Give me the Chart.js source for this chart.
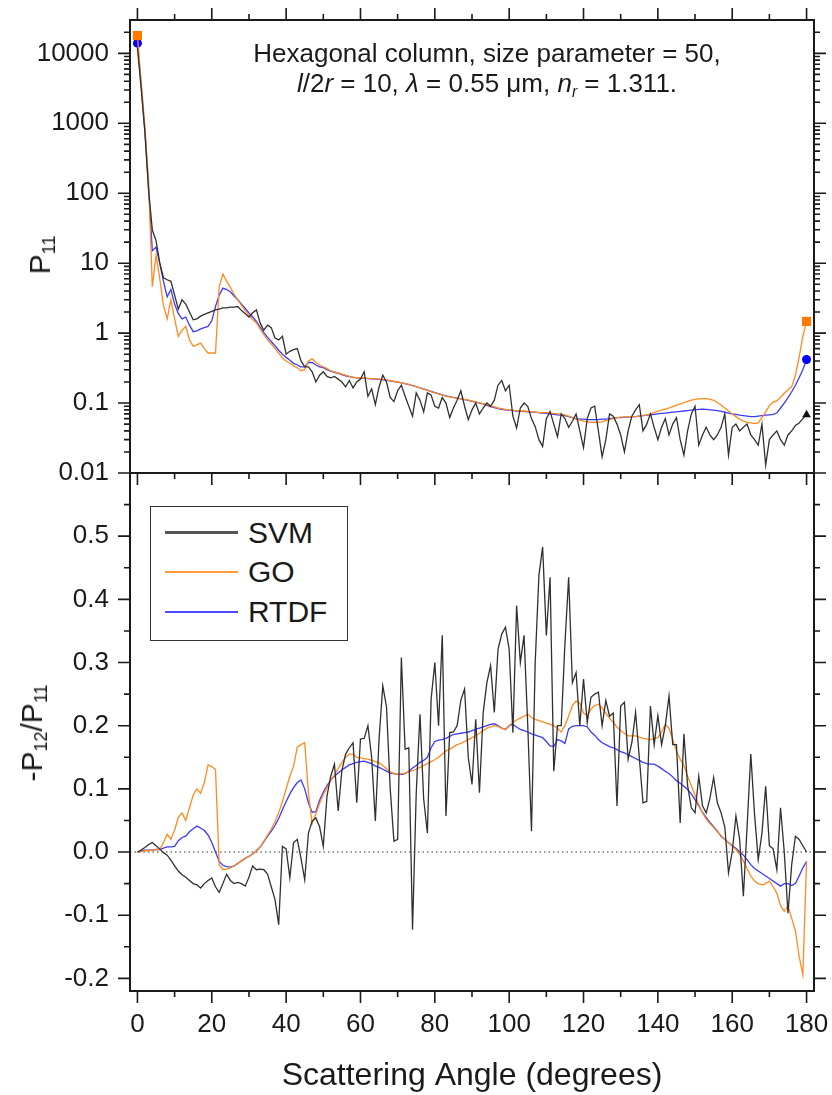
<!DOCTYPE html>
<html>
<head>
<meta charset="utf-8">
<title>Hexagonal column: P11 and -P12/P11</title>
<script src="https://cdn.jsdelivr.net/npm/chart.js@4.4.1/dist/chart.umd.min.js"></script>
<style>
  html, body { margin: 0; padding: 0; background: #fff; }
  #wrap { position: relative; width: 832px; height: 1095px; overflow: hidden;
          font-family: 'Liberation Sans', Arial, Helvetica, sans-serif; color: #1a1a1a; }
  #wrap canvas { position: absolute; left: 0; top: 0; }
  sub { font-size: 0.6em; vertical-align: -0.3em; line-height: 0; }
  .ytitle { position: absolute; white-space: nowrap; font-size: 30px; line-height: 1;
            transform: translate(-50%, -50%) rotate(-90deg); }
  #note { position: absolute; left: 187px; top: 38px; width: 600px; text-align: center;
          font-size: 26px; line-height: 30px; white-space: nowrap; }
  #legend { position: absolute; left: 150px; top: 506px; width: 198px; height: 135px;
            box-sizing: border-box; border: 1.5px solid #333; background: #fff; padding-top: 6px; }
  #legend .row { display: flex; align-items: center; height: 39.5px; }
  #legend .swatch { display: block; margin-left: 14px; width: 73px; }
  #legend .lab { margin-left: 10px; font-size: 30px; line-height: 1; }
</style>
</head>
<body>
<div id="wrap">
  <canvas id="p11" width="832" height="1095"></canvas>
  <canvas id="pol" width="832" height="1095"></canvas>
  <div class="ytitle" style="left:40px;top:255px">P<sub>11</sub></div>
  <div class="ytitle" style="left:32px;top:733px">-P<sub>12</sub>/P<sub>11</sub></div>
  <div id="note">Hexagonal column, size parameter = 50,<br><i>l</i>/2<i>r</i> = 10, <i>λ</i> = 0.55 μm, <i>n</i><sub><i>r</i></sub> = 1.311.</div>
  <div id="legend"></div>
</div>
<script>
// Scattering angle grid (degrees), shared by both panels.
const angles = [
  0, 1, 2, 3, 4, 5, 6, 7, 8, 9,
  10, 11, 12, 13, 14, 15, 16, 17, 18, 19,
  20, 21, 22, 23, 24, 25, 26, 27, 28, 29,
  30, 31, 32, 33, 34, 35, 36, 37, 38, 39,
  40, 41, 42, 43, 44, 45, 46, 47, 48, 49,
  50, 51, 52, 53, 54, 55, 56, 57, 58, 59,
  60, 61, 62, 63, 64, 65, 66, 67, 68, 69,
  70, 71, 72, 73, 74, 75, 76, 77, 78, 79,
  80, 81, 82, 83, 84, 85, 86, 87, 88, 89,
  90, 91, 92, 93, 94, 95, 96, 97, 98, 99,
  100, 101, 102, 103, 104, 105, 106, 107, 108, 109,
  110, 111, 112, 113, 114, 115, 116, 117, 118, 119,
  120, 121, 122, 123, 124, 125, 126, 127, 128, 129,
  130, 131, 132, 133, 134, 135, 136, 137, 138, 139,
  140, 141, 142, 143, 144, 145, 146, 147, 148, 149,
  150, 151, 152, 153, 154, 155, 156, 157, 158, 159,
  160, 161, 162, 163, 164, 165, 166, 167, 168, 169,
  170, 171, 172, 173, 174, 175, 176, 177, 178, 179,
  180
];

// Phase function P11 (top panel, log scale).
const p11SVM = [
  12000, 3200, 750, 110, 30, 21, 10, 6.2, 5.8, 5.5,
  3.5, 2.2, 3.0, 2.6, 2.0, 1.55, 1.6, 1.75, 1.85, 1.95,
  2.05, 2.15, 2.2, 2.3, 2.3, 2.35, 2.35, 2.4, 2.1, 1.9,
  1.7, 1.95, 2.15, 1.4, 1.1, 1.3, 1.2, 0.85, 0.8, 0.9,
  0.5, 0.55, 0.58, 0.6, 0.4, 0.33, 0.33, 0.28, 0.2, 0.25,
  0.28, 0.24, 0.23, 0.24, 0.22, 0.2, 0.17, 0.21, 0.165, 0.2,
  0.22, 0.28, 0.125, 0.16, 0.095, 0.17, 0.25, 0.2, 0.12, 0.105,
  0.15, 0.18, 0.125, 0.09, 0.065, 0.14, 0.11, 0.075, 0.14, 0.13,
  0.09, 0.085, 0.12, 0.1, 0.062, 0.085, 0.11, 0.15, 0.09, 0.058,
  0.08, 0.1, 0.07, 0.085, 0.1, 0.09, 0.11, 0.18, 0.21, 0.15,
  0.18, 0.065, 0.044, 0.085, 0.1, 0.09, 0.06, 0.046, 0.03, 0.024,
  0.06, 0.076, 0.05, 0.033, 0.07, 0.06, 0.045, 0.055, 0.07, 0.04,
  0.023, 0.06, 0.085, 0.09, 0.04, 0.017, 0.03, 0.07, 0.065, 0.05,
  0.035, 0.02, 0.04, 0.065, 0.08, 0.095, 0.04, 0.05, 0.07, 0.045,
  0.03, 0.045, 0.06, 0.035, 0.05, 0.062, 0.03, 0.018, 0.04, 0.07,
  0.09, 0.025, 0.035, 0.045, 0.035, 0.03, 0.035, 0.045, 0.07, 0.018,
  0.045, 0.05, 0.04, 0.045, 0.05, 0.035, 0.03, 0.025, 0.05, 0.013,
  0.03, 0.035, 0.04, 0.03, 0.025, 0.035, 0.04, 0.048, 0.052, 0.06,
  0.068
];
const p11GO = [
  18000, 4000, 900, 150, 4.6, 13, 6, 2.5, 1.6, 3.0,
  1.6, 0.9, 1.1, 1.25, 0.8, 0.65, 0.68, 0.72, 0.6, 0.52,
  0.52, 0.52, 4.6, 7.0, 5.5, 4.5, 3.6, 3.0, 2.5, 2.1,
  1.8, 1.55, 1.4, 1.15, 0.95, 0.8, 0.7, 0.6, 0.52, 0.44,
  0.4, 0.37, 0.34, 0.32, 0.29, 0.3, 0.4, 0.43, 0.38, 0.35,
  0.33, 0.31, 0.29, 0.28, 0.27, 0.26, 0.25, 0.24, 0.235, 0.23,
  0.23, 0.228, 0.226, 0.224, 0.222, 0.22, 0.218, 0.215, 0.21, 0.205,
  0.2, 0.195, 0.19, 0.185, 0.178, 0.172, 0.165, 0.158, 0.152, 0.146,
  0.14, 0.135, 0.13, 0.126, 0.123, 0.12, 0.117, 0.115, 0.113, 0.11,
  0.107, 0.104, 0.101, 0.098, 0.095, 0.091, 0.088, 0.085, 0.083, 0.081,
  0.08, 0.079, 0.078, 0.077, 0.077, 0.076, 0.075, 0.074, 0.073, 0.073,
  0.073, 0.072, 0.071, 0.07, 0.069, 0.068, 0.065, 0.062, 0.059, 0.057,
  0.055, 0.054, 0.053, 0.053, 0.053, 0.054, 0.056, 0.058, 0.06, 0.062,
  0.063, 0.063, 0.064, 0.064, 0.064, 0.065, 0.066, 0.068, 0.07, 0.073,
  0.076, 0.079, 0.082, 0.085, 0.089, 0.093, 0.097, 0.101, 0.106, 0.11,
  0.113, 0.115, 0.116, 0.116, 0.114, 0.109, 0.102, 0.094, 0.085, 0.077,
  0.07, 0.064, 0.059, 0.055, 0.053, 0.052, 0.051, 0.052, 0.062, 0.075,
  0.092, 0.103, 0.108, 0.12, 0.138, 0.155, 0.172, 0.25, 0.45, 0.9,
  1.47
];
const p11RTDF = [
  14000, 3500, 800, 120, 15, 17, 10, 5.5, 3.3, 4.2,
  2.6, 1.9, 1.6, 1.7, 1.3, 1.05, 1.08, 1.15, 1.2, 1.25,
  1.5, 2.4, 3.5, 4.4, 4.2, 3.9, 3.4, 3.0, 2.6, 2.25,
  1.95, 1.7, 1.47, 1.22, 1.02, 0.87, 0.76, 0.66, 0.57, 0.5,
  0.45, 0.41, 0.37, 0.35, 0.33, 0.33, 0.38, 0.38, 0.35, 0.33,
  0.32, 0.3, 0.285, 0.275, 0.265, 0.255, 0.245, 0.238, 0.233, 0.23,
  0.228, 0.226, 0.224, 0.222, 0.22, 0.218, 0.215, 0.212, 0.207, 0.203,
  0.2, 0.195, 0.19, 0.184, 0.178, 0.172, 0.165, 0.159, 0.153, 0.147,
  0.141, 0.136, 0.131, 0.127, 0.124, 0.121, 0.118, 0.115, 0.112, 0.109,
  0.106, 0.103, 0.1, 0.097, 0.093, 0.089, 0.086, 0.083, 0.081, 0.08,
  0.079, 0.078, 0.077, 0.076, 0.076, 0.075, 0.074, 0.074, 0.073, 0.072,
  0.071, 0.07, 0.069, 0.068, 0.067, 0.066, 0.064, 0.062, 0.06, 0.059,
  0.059, 0.058, 0.058, 0.058, 0.058, 0.059, 0.059, 0.06, 0.061, 0.062,
  0.062, 0.063, 0.063, 0.064, 0.064, 0.065, 0.066, 0.067, 0.068, 0.069,
  0.07, 0.071, 0.072, 0.073, 0.074, 0.075, 0.076, 0.077, 0.078, 0.079,
  0.08, 0.081, 0.082, 0.081, 0.08, 0.079, 0.078, 0.076, 0.074, 0.072,
  0.07, 0.069, 0.067, 0.066, 0.065, 0.064, 0.064, 0.065, 0.066, 0.067,
  0.068, 0.069, 0.072, 0.085, 0.1, 0.12, 0.145, 0.18, 0.23, 0.3,
  0.42
];

// Degree of linear polarization -P12/P11 (bottom panel).
const polSVM = [
  0, 0.003, 0.007, 0.012, 0.015, 0.01, 0.005, -0.001, -0.005, -0.013,
  -0.022, -0.03, -0.036, -0.04, -0.045, -0.05, -0.052, -0.057, -0.05, -0.045,
  -0.041, -0.055, -0.064, -0.05, -0.035, -0.045, -0.05, -0.048, -0.05, -0.054,
  -0.04, -0.022, -0.028, -0.027, -0.028, -0.035, -0.055, -0.075, -0.115, 0.009,
  0.005, -0.041, 0.015, 0.02, -0.01, -0.044, 0.03, 0.049, 0.054, 0.04,
  0.009, 0.089, 0.12, 0.139, 0.065, 0.129, 0.155, 0.165, 0.173, 0.078,
  0.179, 0.18, 0.2, 0.15, 0.049, 0.179, 0.263, 0.23, 0.1, 0.017,
  0.02, 0.308, 0.163, 0.165, -0.123, 0.094, 0.218, 0.084, 0.03, 0.242,
  0.3, 0.2, 0.343, 0.057, 0.189, 0.19, 0.2, 0.24, 0.258, 0.15,
  0.107, 0.21, 0.094, 0.22, 0.268, 0.295, 0.221, 0.321, 0.345, 0.356,
  0.321, 0.189, 0.39, 0.3, 0.343, 0.2, 0.033, 0.3, 0.438, 0.483,
  0.343, 0.435, 0.128, 0.2, 0.2, 0.33, 0.435, 0.268, 0.284, 0.2,
  0.274, 0.205, 0.245, 0.25, 0.253, 0.2, 0.24, 0.215, 0.22, 0.073,
  0.231, 0.237, 0.147, 0.173, 0.221, 0.15, 0.078, 0.08, 0.231, 0.17,
  0.216, 0.17, 0.2, 0.247, 0.17, 0.17, 0.046, 0.187, 0.105, 0.07,
  0.062, 0.12, 0.073, 0.062, 0.085, 0.118, 0.078, 0.062, 0.04, -0.033,
  0.0, 0.057, 0.02, -0.07, 0.04, 0.155, 0.06, -0.012, 0.03, 0.104,
  0.01, 0.005, -0.028, 0.07, 0.0, -0.097, -0.02, 0.025, 0.02, 0.01,
  0.0
];
const polGO = [
  0, 0.001, 0.002, 0.002, 0.003, 0.004, 0.004, 0.015, 0.028, 0.02,
  0.035, 0.055, 0.062, 0.05, 0.07, 0.09, 0.1, 0.093, 0.11, 0.138,
  0.135, 0.131, -0.02, -0.028, -0.027, -0.025, -0.022, -0.018, -0.014, -0.01,
  -0.007, -0.003, 0.002, 0.008, 0.017, 0.027, 0.036, 0.048, 0.062, 0.08,
  0.1, 0.12, 0.136, 0.166, 0.17, 0.173, 0.094, 0.045, 0.06, 0.077,
  0.091, 0.102, 0.113, 0.122, 0.132, 0.142, 0.15, 0.155, 0.155, 0.15,
  0.149, 0.148, 0.147, 0.145, 0.143, 0.141, 0.137, 0.132, 0.127, 0.124,
  0.123, 0.124, 0.125, 0.127, 0.129, 0.131, 0.134, 0.137, 0.14, 0.143,
  0.146, 0.15, 0.155, 0.16, 0.163, 0.166, 0.17, 0.172, 0.175, 0.178,
  0.181, 0.184, 0.188, 0.192, 0.196, 0.198, 0.2, 0.199, 0.196, 0.194,
  0.2, 0.205, 0.209, 0.212, 0.215, 0.218, 0.213, 0.21, 0.208, 0.206,
  0.204, 0.202, 0.2, 0.196, 0.19, 0.2, 0.215, 0.232, 0.239, 0.236,
  0.22, 0.216, 0.226, 0.232, 0.234, 0.228, 0.22, 0.212, 0.205, 0.198,
  0.192, 0.188, 0.184, 0.184, 0.184, 0.182, 0.18, 0.179, 0.178, 0.18,
  0.181, 0.19, 0.202, 0.196, 0.178, 0.16, 0.147, 0.137, 0.12, 0.105,
  0.09, 0.075, 0.062, 0.052, 0.045, 0.039, 0.032, 0.026, 0.02, 0.015,
  0.009, 0.004, -0.004, -0.014, -0.026, -0.038, -0.046, -0.05, -0.052, -0.05,
  -0.046, -0.055, -0.065, -0.085, -0.094, -0.085, -0.105, -0.125, -0.165, -0.194,
  -0.015
];
const polRTDF = [
  0, 0.002, 0.003, 0.003, 0.003, 0.004, 0.004, 0.006, 0.008, 0.008,
  0.009, 0.018, 0.023, 0.025, 0.032, 0.037, 0.041, 0.038, 0.034, 0.027,
  0.015, 0.0, -0.015, -0.021, -0.023, -0.024, -0.022, -0.018, -0.014, -0.01,
  -0.007, -0.003, 0.002, 0.008, 0.016, 0.025, 0.033, 0.042, 0.053, 0.067,
  0.08, 0.092, 0.102, 0.11, 0.114, 0.1, 0.078, 0.063, 0.064, 0.082,
  0.095, 0.105, 0.114, 0.12, 0.125, 0.13, 0.134, 0.138, 0.14, 0.142,
  0.143, 0.144, 0.142, 0.14, 0.136, 0.134, 0.131, 0.128, 0.125, 0.124,
  0.123, 0.123, 0.124, 0.128, 0.133, 0.137, 0.142, 0.145, 0.15, 0.165,
  0.175, 0.177, 0.178, 0.18, 0.183, 0.186, 0.187, 0.188, 0.189, 0.19,
  0.192, 0.194, 0.196, 0.198, 0.2, 0.202, 0.203, 0.2, 0.196, 0.194,
  0.2, 0.202, 0.198, 0.194, 0.192, 0.19, 0.187, 0.185, 0.183, 0.181,
  0.175, 0.168, 0.167, 0.178, 0.176, 0.172, 0.195, 0.199, 0.2, 0.2,
  0.2, 0.198, 0.19, 0.185, 0.178, 0.173, 0.17, 0.167, 0.165, 0.162,
  0.159, 0.157, 0.154, 0.151, 0.148, 0.145, 0.142, 0.14, 0.139, 0.139,
  0.136, 0.132, 0.128, 0.124, 0.119, 0.113, 0.109, 0.104, 0.099, 0.092,
  0.083, 0.073, 0.063, 0.055, 0.047, 0.04, 0.033, 0.025, 0.02, 0.015,
  0.01, 0.006, 0.0, -0.005, -0.012, -0.02, -0.026, -0.03, -0.034, -0.038,
  -0.042, -0.046, -0.05, -0.054, -0.05, -0.05, -0.053, -0.05, -0.038, -0.025,
  -0.015
];

// Axis ticks and their labels.
const angleTicks = [0, 20, 40, 60, 80, 100, 120, 140, 160, 180];
const p11Ticks = [0.01, 0.1, 1, 10, 100, 1000, 10000];
const p11TickLabels = ['0.01', '0.1', '1', '10', '100', '1000', '10000'];
const polTicks = [-0.2, -0.1, 0, 0.1, 0.2, 0.3, 0.4, 0.5];
const polTickLabels = ['-0.2', '-0.1', '0.0', '0.1', '0.2', '0.3', '0.4', '0.5'];

const FONT = "'Liberation Sans', Arial, Helvetica, sans-serif";
const INK = '#1a1a1a';
const STYLE = {
  SVM:  { color: '#303030', width: 1.3, marker: 'triangle', markerColor: '#111111', size: 5,   legend: '#555555', legendWidth: 2.6 },
  GO:   { color: '#ff8a1f', width: 1.3, marker: 'rect',     markerColor: '#ff7a00', size: 6.5, legend: '#ff9a3c', legendWidth: 1.6 },
  RTDF: { color: '#3a3aff', width: 1.3, marker: 'circle',   markerColor: '#0000ff', size: 4.5, legend: '#4d4dff', legendWidth: 1.6 }
};

function pts(vals) {
  return angles.map((a, i) => ({ x: a, y: vals[i] }));
}

// Symbols only at the forward (0°) and back (180°) scattering ends.
function endMarkers(name, withStart) {
  const last = angles.length - 1;
  const r = STYLE[name].size;
  return c => (c.dataIndex === last || (withStart && c.dataIndex === 0)) ? r : 0;
}

function dataset(name, vals, markers) {
  const s = STYLE[name];
  return {
    label: name,
    data: pts(vals),
    borderColor: s.color,
    borderWidth: s.width,
    pointStyle: s.marker,
    pointBackgroundColor: s.markerColor,
    pointBorderColor: s.markerColor,
    pointBorderWidth: 0,
    pointRadius: markers ? endMarkers(name, name !== 'SVM') : 0,
    tension: 0,
    fill: false
  };
}

// Invisible tick marks reserve the gap between axis and labels; the real
// marks (major + minor) are drawn by the frame plugin below.
function hiddenGrid(len) {
  return { display: true, drawOnChartArea: false, drawTicks: true, tickLength: len, tickColor: 'rgba(0,0,0,0)' };
}

function yAxis(type, min, max, ticks, labels) {
  return {
    type, min, max, bounds: 'data',
    grid: hiddenGrid(21),
    border: { display: false },
    afterBuildTicks: s => { s.ticks = ticks.map(v => ({ value: v })); },
    afterFit: s => { s.width = 130; },
    ticks: { autoSkip: false, padding: 0, color: INK, font: { family: FONT, size: 26 },
             callback: (v, i) => labels[i] }
  };
}

function xAxis(show) {
  return {
    type: 'linear', min: -2, max: 182, bounds: 'data', display: show,
    grid: hiddenGrid(18),
    border: { display: false },
    afterBuildTicks: s => { s.ticks = angleTicks.map(v => ({ value: v })); },
    afterFit: s => { if (show) s.height = 104; },
    ticks: { autoSkip: false, maxRotation: 0, padding: 0, color: INK, font: { family: FONT, size: 26 } },
    title: { display: show, text: 'Scattering Angle (degrees)', color: INK,
             font: { family: FONT, size: 32 }, padding: 0 }
  };
}

// Tick marks for a y scale: majors at the scale's ticks, minors in between.
function yTickMarks(ys) {
  const marks = ys.ticks.map(t => [t.value, 12]);
  if (ys.type === 'logarithmic') {
    for (let d = Math.floor(Math.log10(ys.min)); d < Math.ceil(Math.log10(ys.max)); d++) {
      for (let m = 2; m <= 9; m++) {
        const v = m * Math.pow(10, d);
        if (v > ys.min && v < ys.max) marks.push([v, 6]);
      }
    }
  } else {
    const step = ys.ticks[1].value - ys.ticks[0].value;
    ys.ticks.forEach(t => { if (t.value + step / 2 < ys.max) marks.push([t.value + step / 2, 6]); });
    const first = ys.ticks[0].value - step / 2;
    if (first > ys.min) marks.push([first, 6]);
  }
  return marks;
}

// Boxed frame with outward ticks on all sides, plus the dotted zero line.
const frame = {
  id: 'frame',
  beforeDatasetsDraw(chart, args, opts) {
    if (!opts.zeroLine) return;
    const { ctx, chartArea: a } = chart;
    const py = chart.scales.y.getPixelForValue(0);
    ctx.save();
    ctx.strokeStyle = '#333';
    ctx.lineWidth = 1.2;
    ctx.setLineDash([1.5, 3]);
    ctx.beginPath();
    ctx.moveTo(a.left, py);
    ctx.lineTo(a.right, py);
    ctx.stroke();
    ctx.restore();
  },
  afterDatasetsDraw(chart, args, opts) {
    const { ctx, chartArea: a } = chart;
    const xs = chart.scales.x, ys = chart.scales.y;
    ctx.save();
    ctx.strokeStyle = INK;
    ctx.lineWidth = 1.6;
    ctx.beginPath();
    angleTicks.forEach(v => {
      [[v, 12], [v + 10, 6]].forEach(([t, len]) => {
        if (t > xs.max) return;
        const px = xs.getPixelForValue(t);
        if (opts.topTicks) { ctx.moveTo(px, a.top); ctx.lineTo(px, a.top - len); }
        ctx.moveTo(px, a.bottom);
        ctx.lineTo(px, a.bottom + len);
      });
    });
    yTickMarks(ys).forEach(([t, len]) => {
      const py = ys.getPixelForValue(t);
      ctx.moveTo(a.left, py); ctx.lineTo(a.left - len, py);
      ctx.moveTo(a.right, py); ctx.lineTo(a.right + len, py);
    });
    ctx.stroke();
    ctx.lineWidth = 2;
    ctx.strokeRect(a.left, a.top, a.right - a.left, a.bottom - a.top);
    ctx.restore();
  }
};

function options(padding, scales, frameOpts) {
  return {
    responsive: false, animation: false, devicePixelRatio: 1, events: [],
    layout: { padding },
    plugins: { legend: { display: false }, tooltip: { enabled: false }, frame: frameOpts },
    scales
  };
}

const p11Chart = new Chart(document.getElementById('p11'), {
  type: 'line',
  data: { datasets: [dataset('SVM', p11SVM, true), dataset('GO', p11GO, true), dataset('RTDF', p11RTDF, true)] },
  options: options({ left: 0, right: 18, top: 20, bottom: 622 },
    { x: xAxis(false), y: yAxis('logarithmic', 0.01, 30000, p11Ticks, p11TickLabels) },
    { topTicks: true, zeroLine: false }),
  plugins: [frame]
});

const polChart = new Chart(document.getElementById('pol'), {
  type: 'line',
  data: { datasets: [dataset('SVM', polSVM, false), dataset('GO', polGO, false), dataset('RTDF', polRTDF, false)] },
  options: options({ left: 0, right: 18, top: 473, bottom: 0 },
    { x: xAxis(true), y: yAxis('linear', -0.22, 0.6, polTicks, polTickLabels) },
    { topTicks: false, zeroLine: true }),
  plugins: [frame]
});

// Boxed legend inside the lower panel, built from the chart's datasets.
(function buildLegend(chart) {
  const box = document.getElementById('legend');
  chart.data.datasets.forEach(ds => {
    const s = STYLE[ds.label];
    const row = document.createElement('div');
    row.className = 'row';
    const sw = document.createElement('span');
    sw.className = 'swatch';
    sw.style.background = s.legend;
    sw.style.height = s.legendWidth + 'px';
    const lab = document.createElement('span');
    lab.className = 'lab';
    lab.textContent = ds.label;
    row.appendChild(sw);
    row.appendChild(lab);
    box.appendChild(row);
  });
})(polChart);
</script>
</body>
</html>
